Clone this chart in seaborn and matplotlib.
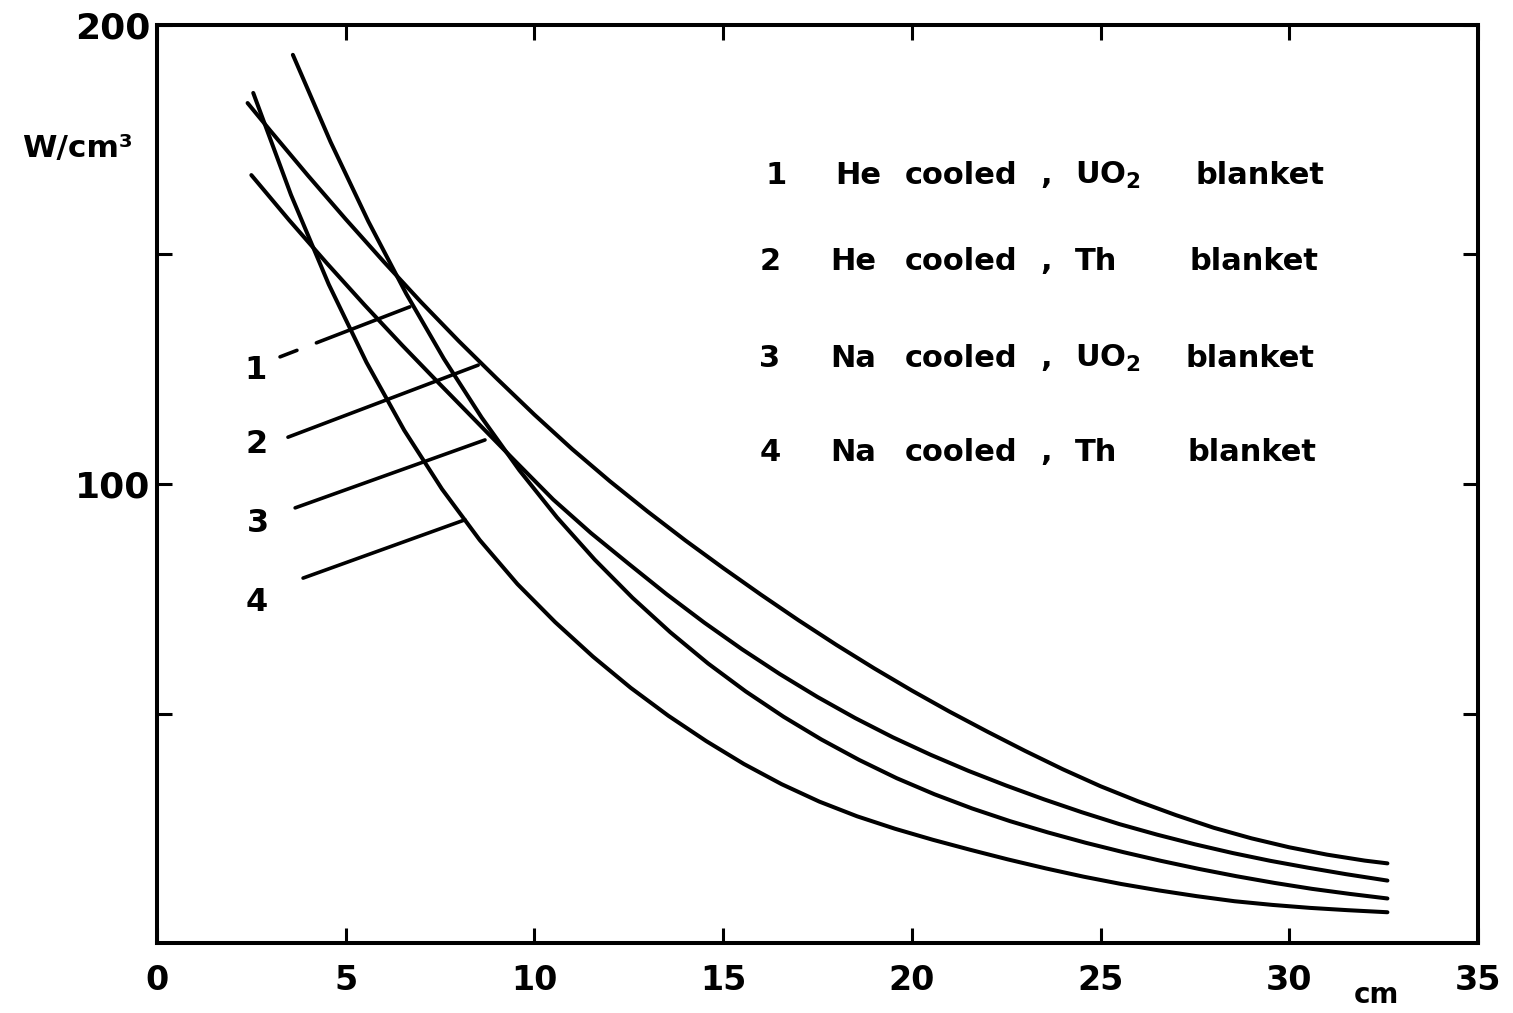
import numpy as np
import pandas as pd
import matplotlib
matplotlib.use("Agg")
import matplotlib.pyplot as plt
import seaborn as sns

# ---------------- data ----------------
# curve 1: He cooled, UO2 blanket
x1 = [3.6, 4.6, 5.6, 6.6, 7.6, 8.6, 9.6, 10.6, 11.6, 12.6, 13.6, 14.6, 15.6, 16.6, 17.6,
      18.6, 19.6, 20.6, 21.6, 22.6, 23.6, 24.6, 25.6, 26.6, 27.6, 28.6, 29.6, 30.6, 31.6, 32.6]
y1 = [193.5, 174.5, 157.2, 141.5, 127.3, 114.5, 103.0, 92.7, 83.5, 75.2, 67.7, 60.9, 54.8,
      49.3, 44.35, 39.9, 35.9, 32.4, 29.3, 26.55, 24.1, 21.85, 19.8, 17.9, 16.15, 14.55,
      13.1, 11.8, 10.7, 9.7]
# curve 2: He cooled, Th blanket
x2 = [2.4, 3, 4, 5, 6, 7, 8, 9, 10, 11, 12, 13, 14, 15, 16, 17, 18, 19, 20, 21, 22, 23,
      24, 25, 26, 27, 28, 29, 30, 31, 32, 32.6]
y2 = [183.0, 177.0, 167.2, 157.7, 148.5, 139.6, 131.1, 123.0, 115.1, 107.6, 100.6, 94.0,
      87.7, 81.7, 75.9, 70.3, 64.95, 59.85, 55.0, 50.4, 46.05, 41.85, 37.85, 34.15, 30.85,
      27.85, 25.1, 22.8, 20.85, 19.25, 17.95, 17.35]
# curve 3: Na cooled, UO2 blanket
x3 = [2.5, 3.5, 4.5, 5.5, 6.5, 7.5, 8.5, 9.5, 10.5, 11.5, 12.5, 13.5, 14.5, 15.5, 16.5,
      17.5, 18.5, 19.5, 20.5, 21.5, 22.5, 23.5, 24.5, 25.5, 26.5, 27.5, 28.5, 29.5, 30.5,
      31.5, 32.6]
y3 = [167.3, 157.5, 148.1, 139.0, 130.2, 121.7, 113.3, 104.9, 96.6, 89.3, 82.6, 76.0,
      69.8, 64.0, 58.6, 53.6, 49.0, 44.8, 41.0, 37.5, 34.3, 31.3, 28.5, 25.9, 23.6, 21.5,
      19.6, 17.9, 16.4, 15.0, 13.6]
# curve 4: Na cooled, Th blanket
x4 = [2.55, 3.55, 4.55, 5.55, 6.55, 7.55, 8.55, 9.55, 10.55, 11.55, 12.55, 13.55, 14.55,
      15.55, 16.55, 17.55, 18.55, 19.55, 20.55, 21.55, 22.55, 23.55, 24.55, 25.55, 26.55,
      27.55, 28.55, 29.55, 30.55, 31.55, 32.6]
y4 = [185.2, 163.0, 143.5, 126.5, 111.7, 98.9, 87.8, 78.2, 69.9, 62.4, 55.6, 49.5, 44.0,
      39.0, 34.6, 30.8, 27.6, 24.9, 22.5, 20.3, 18.2, 16.25, 14.45, 12.85, 11.45, 10.2,
      9.1, 8.3, 7.65, 7.15, 6.7]

curve_ids = ["1", "2", "3", "4"]
coolants = ["He", "He", "Na", "Na"]
materials = [r"UO$_\mathbf{2}$", "Th", r"UO$_\mathbf{2}$", "Th"]

# leader lines (start near number label -> end on curve), data units
leader_x0 = [3.26, 3.47, 3.66, 3.87]
leader_y0 = [127.7, 110.2, 94.8, 79.5]
leader_x1 = [6.70, 8.51, 8.69, 8.16]
leader_y1 = [138.6, 125.9, 109.6, 92.2]
label_x = [2.6, 2.65, 2.68, 2.65]
label_y = [124.8, 108.5, 91.5, 74.1]

xticks = [0, 5, 10, 15, 20, 25, 30, 35]
xtick_labels = ["0", "5", "10", "15", "20", "25", "30", "35"]
yticks = [50, 100, 150, 200]
ytick_labels = ["", "100", "", "200"]

# ---------------- figure ----------------
sns.set_style("ticks")
plt.rcParams["font.family"] = ["DejaVu Sans"]
plt.rcParams["text.color"] = "black"
plt.rcParams["mathtext.fontset"] = "dejavusans"

W, H = 1513, 1013
fig = plt.figure(figsize=(W / 100, H / 100), dpi=100)
fig.patch.set_facecolor("white")
ax = fig.add_axes([157 / W, 1 - 943 / H, (1478 - 157) / W, (943 - 25) / H])

frames = []
for cid, xs, ys in zip(curve_ids, [x1, x2, x3, x4], [y1, y2, y3, y4]):
    frames.append(pd.DataFrame({"x": xs, "y": ys, "curve": cid}))
df = pd.concat(frames, ignore_index=True)

sns.lineplot(data=df, x="x", y="y", units="curve", estimator=None, color="black",
             lw=2.9, ax=ax, legend=False, solid_capstyle="round",
             solid_joinstyle="round")

# leader lines
for i in range(4):
    xa, ya, xb, yb = leader_x0[i], leader_y0[i], leader_x1[i], leader_y1[i]
    if i == 0:
        # first leader has a small break near its start
        t = [0.0, 0.13, 0.28, 1.0]
        xs = [xa + (xb - xa) * s for s in t]
        ys = [ya + (yb - ya) * s for s in t]
        ax.plot(xs[0:2], ys[0:2], color="black", lw=2.6, solid_capstyle="round")
        ax.plot(xs[2:4], ys[2:4], color="black", lw=2.6, solid_capstyle="round")
    else:
        ax.plot([xa, xb], [ya, yb], color="black", lw=2.6, solid_capstyle="round")
    ax.text(label_x[i], label_y[i], curve_ids[i], fontsize=23, fontweight="bold",
            ha="center", va="center")

ax.set_xlim(0, 35)
ax.set_ylim(0, 200)
ax.set_xticks(xticks)
ax.set_xticklabels(xtick_labels, fontsize=24, fontweight="bold")
ax.set_yticks(yticks)
ax.set_yticklabels(ytick_labels, fontsize=26, fontweight="bold")
ax.tick_params(direction="in", length=11, width=2.2, top=True, right=True,
               colors="black")
ax.tick_params(axis="x", pad=15)
ax.tick_params(axis="y", pad=5)
ax.set_xlabel("")
ax.set_ylabel("")
for s in ax.spines.values():
    s.set_linewidth(2.9)
    s.set_color("black")
    s.set_visible(True)

# axis unit labels
fig.text(77 / W, 1 - 148 / H, "W/cm³", fontsize=22.5, fontweight="bold",
         ha="center", va="center")
fig.text(1376 / W, 1 - 995 / H, "cm", fontsize=20, fontweight="bold",
         ha="center", va="center")

# key (top right)
row_y = [175, 262, 358, 452]
num_x = [776, 770, 770, 770]
cool_x = [835, 830, 830, 830]
blank_x = [1195, 1190, 1185, 1187]
for i in range(4):
    fy = 1 - row_y[i] / H
    fig.text(num_x[i] / W, fy, curve_ids[i], fontsize=22, fontweight="bold",
             ha="center", va="center")
    fig.text(cool_x[i] / W, fy, coolants[i], fontsize=22, fontweight="bold",
             ha="left", va="center")
    fig.text(905 / W, fy, "cooled", fontsize=22, fontweight="bold",
             ha="left", va="center")
    fig.text(1040 / W, fy, ",", fontsize=22, fontweight="bold",
             ha="left", va="center")
    fig.text(1075 / W, fy, materials[i], fontsize=22, fontweight="bold",
             ha="left", va="center")
    fig.text(blank_x[i] / W, fy, "blanket", fontsize=22, fontweight="bold",
             ha="left", va="center")

fig.savefig("out.png", dpi=100, facecolor="white")
